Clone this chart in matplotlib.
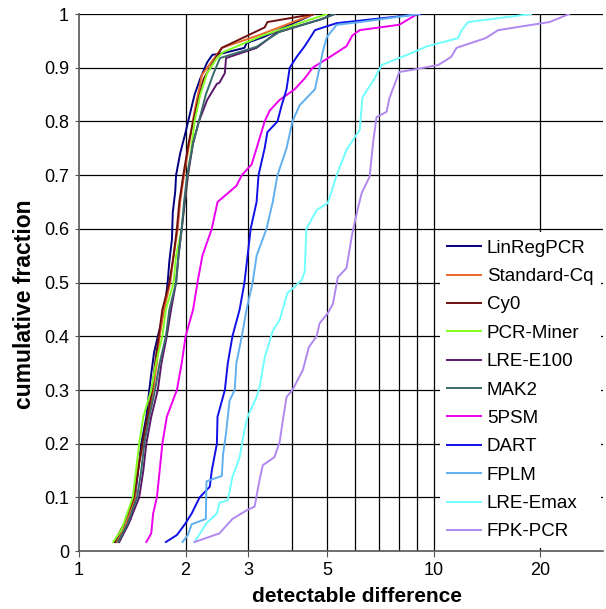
import matplotlib
matplotlib.use("Agg")
import matplotlib.pyplot as plt
from matplotlib.ticker import FixedLocator, NullLocator

plt.rcParams['font.family'] = ['Liberation Sans', 'DejaVu Sans']

# cumulative fraction curves
linreg_x = [1.27, 1.33, 1.40, 1.44, 1.47, 1.50, 1.55, 1.58, 1.60, 1.63, 1.67, 1.70, 1.75, 1.78, 1.80, 1.83,
            1.84, 1.87, 1.88, 1.93, 2.0, 2.05, 2.12, 2.2, 2.3, 2.38, 2.55, 2.93, 2.97, 3.34, 3.76, 4.6]
linreg_y = [0.017, 0.04, 0.06, 0.1, 0.15, 0.2, 0.25, 0.3, 0.33, 0.37, 0.4, 0.42, 0.46, 0.5, 0.54, 0.58,
            0.63, 0.67, 0.7, 0.74, 0.78, 0.81, 0.85, 0.88, 0.91, 0.924, 0.927, 0.937, 0.946, 0.958, 0.974, 1.0]

stdcq_x = [1.28, 1.36, 1.44, 1.46, 1.52, 1.57, 1.62, 1.66, 1.69, 1.74, 1.81, 1.85, 1.9, 1.93, 1.98, 2.05,
           2.12, 2.19, 2.22, 2.53, 3.2, 4.6]
stdcq_y = [0.017, 0.05, 0.1, 0.15, 0.2, 0.25, 0.3, 0.35, 0.4, 0.45, 0.5, 0.55, 0.6, 0.65, 0.7, 0.76,
           0.82, 0.864, 0.886, 0.937, 0.96, 1.0]

cy0_x = [1.26, 1.34, 1.43, 1.47, 1.51, 1.56, 1.61, 1.64, 1.68, 1.72, 1.80, 1.85, 1.89, 1.92, 1.97, 2.04,
         2.1, 2.17, 2.25, 2.53, 3.34, 3.4, 4.6]
cy0_y = [0.017, 0.05, 0.1, 0.15, 0.2, 0.25, 0.3, 0.35, 0.4, 0.45, 0.5, 0.55, 0.6, 0.65, 0.7, 0.76,
         0.8, 0.84, 0.88, 0.937, 0.975, 0.985, 1.0]

miner_x = [1.25, 1.32, 1.42, 1.45, 1.48, 1.52, 1.60, 1.65, 1.72, 1.76, 1.85, 1.88, 1.95, 1.99, 2.05, 2.12,
           2.2, 2.3, 2.45, 2.55, 3.3, 5.0]
miner_y = [0.017, 0.04, 0.1, 0.15, 0.2, 0.25, 0.3, 0.35, 0.4, 0.45, 0.5, 0.55, 0.6, 0.65, 0.72, 0.8,
           0.85, 0.89, 0.918, 0.929, 0.96, 1.0]

e100_x = [1.30, 1.38, 1.48, 1.52, 1.55, 1.60, 1.67, 1.71, 1.77, 1.82, 1.88, 1.91, 1.95, 1.99, 2.03, 2.1,
          2.18, 2.3, 2.45, 2.49, 2.58, 2.6, 3.17, 3.6, 4.8, 5.26]
e100_y = [0.017, 0.05, 0.1, 0.15, 0.2, 0.25, 0.3, 0.35, 0.4, 0.45, 0.5, 0.55, 0.6, 0.65, 0.7, 0.76,
          0.8, 0.84, 0.87, 0.872, 0.89, 0.918, 0.937, 0.965, 0.99, 1.0]

mak2_x = [1.29, 1.37, 1.46, 1.50, 1.53, 1.58, 1.64, 1.69, 1.76, 1.80, 1.88, 1.91, 1.95, 1.98, 2.02, 2.1,
          2.18, 2.28, 2.4, 2.5, 3.17, 3.68, 4.87, 5.26]
mak2_y = [0.017, 0.05, 0.1, 0.15, 0.2, 0.25, 0.3, 0.35, 0.4, 0.45, 0.5, 0.55, 0.6, 0.65, 0.7, 0.76,
          0.8, 0.85, 0.89, 0.918, 0.939, 0.967, 0.991, 1.0]

psm_x = [1.55, 1.60, 1.62, 1.66, 1.69, 1.72, 1.77, 1.89, 1.95, 2.0, 2.1, 2.16, 2.23, 2.37, 2.46, 2.78,
         2.88, 3.07, 3.17, 3.34, 3.45, 3.68, 4.06, 4.33, 4.56, 5.1, 5.68, 5.9, 6.19, 8.0, 9.0]
psm_y = [0.017, 0.033, 0.07, 0.1, 0.15, 0.2, 0.25, 0.3, 0.35, 0.4, 0.45, 0.5, 0.55, 0.6, 0.65, 0.68,
         0.7, 0.72, 0.75, 0.8, 0.82, 0.84, 0.86, 0.88, 0.9, 0.92, 0.94, 0.96, 0.97, 0.98, 1.0]

dart_x = [1.76, 1.89, 1.99, 2.08, 2.19, 2.34, 2.37, 2.45, 2.46, 2.58, 2.63, 2.71, 2.84, 2.93, 2.99, 3.05,
          3.17, 3.21, 3.34, 3.4, 3.63, 3.73, 3.85, 3.93, 4.11, 4.33, 4.53, 4.63, 5.33, 9.2]
dart_y = [0.017, 0.03, 0.05, 0.07, 0.1, 0.12, 0.15, 0.2, 0.25, 0.3, 0.35, 0.4, 0.45, 0.5, 0.55, 0.6,
          0.65, 0.7, 0.75, 0.78, 0.8, 0.83, 0.86, 0.9, 0.92, 0.94, 0.96, 0.97, 0.983, 1.0]

fplm_x = [1.96, 2.03, 2.08, 2.28, 2.29, 2.53, 2.55, 2.6, 2.66, 2.75, 2.78, 2.88, 2.97, 3.09, 3.17, 3.38,
          3.52, 3.63, 3.85, 4.0, 4.19, 4.63, 4.77, 4.87, 5.0, 5.33, 6.2, 9.1]
fplm_y = [0.017, 0.03, 0.05, 0.06, 0.13, 0.14, 0.18, 0.22, 0.28, 0.3, 0.35, 0.4, 0.45, 0.5, 0.55, 0.6,
          0.65, 0.7, 0.75, 0.8, 0.83, 0.86, 0.9, 0.93, 0.957, 0.98, 0.985, 1.0]

emax_x = [2.12, 2.29, 2.45, 2.49, 2.63, 2.71, 2.84, 2.93, 2.99, 3.17, 3.23, 3.34, 3.52, 3.68, 3.87, 4.25,
          4.33, 4.38, 4.68, 5.03, 5.33, 5.68, 6.0, 6.19, 6.3, 6.82, 7.13, 8.0, 8.85, 9.6, 11.7, 12.0,
          12.5, 18.8]
emax_y = [0.017, 0.052, 0.07, 0.09, 0.095, 0.138, 0.175, 0.225, 0.25, 0.287, 0.305, 0.36, 0.41, 0.43, 0.48, 0.505,
          0.52, 0.6, 0.635, 0.648, 0.7, 0.747, 0.771, 0.784, 0.845, 0.88, 0.905, 0.918, 0.93, 0.94, 0.955, 0.97,
          0.985, 1.0]

fpk_x = [2.12, 2.49, 2.71, 2.99, 3.13, 3.23, 3.3, 3.56, 3.68, 3.76, 3.85, 4.0, 4.28, 4.45, 4.68, 4.77,
         5.03, 5.2, 5.37, 5.68, 5.9, 6.1, 6.27, 6.6, 6.75, 6.9, 7.37, 7.5, 8.0, 8.7, 10.3, 11.2,
         11.6, 14.0, 15.2, 21.2, 24.1]
fpk_y = [0.017, 0.033, 0.06, 0.077, 0.083, 0.132, 0.16, 0.175, 0.203, 0.244, 0.287, 0.3, 0.337, 0.38, 0.4, 0.424,
         0.443, 0.46, 0.51, 0.527, 0.592, 0.635, 0.667, 0.697, 0.76, 0.808, 0.818, 0.843, 0.892, 0.896, 0.905, 0.92,
         0.937, 0.955, 0.97, 0.985, 1.0]

names = ['LinRegPCR', 'Standard-Cq', 'Cy0', 'PCR-Miner', 'LRE-E100', 'MAK2',
         '5PSM', 'DART', 'FPLM', 'LRE-Emax', 'FPK-PCR']
xs = [linreg_x, stdcq_x, cy0_x, miner_x, e100_x, mak2_x, psm_x, dart_x, fplm_x, emax_x, fpk_x]
ys = [linreg_y, stdcq_y, cy0_y, miner_y, e100_y, mak2_y, psm_y, dart_y, fplm_y, emax_y, fpk_y]
colors = ['#000080', '#e8682a', '#701010', '#80ff20', '#5a1868', '#3a6a6a',
          '#ee00ee', '#1010e8', '#60b0f0', '#70ffff', '#b088f0']

x_ticks = [1, 2, 3, 5, 10, 20]
x_grid = [2, 3, 4, 5, 6, 7, 8, 9, 10, 20]
y_ticks = [0, 0.1, 0.2, 0.3, 0.4, 0.5, 0.6, 0.7, 0.8, 0.9, 1]
y_labels = ['0', '0.1', '0.2', '0.3', '0.4', '0.5', '0.6', '0.7', '0.8', '0.9', '1']

fig = plt.figure(figsize=(6.06, 6.09), dpi=100)
ax = fig.add_axes([0.130, 0.095, 0.865, 0.882])

for gx in x_grid:
    ax.axvline(gx, color='black', lw=0.9, zorder=1)
for gy in y_ticks[1:]:
    ax.axhline(gy, color='black', lw=0.9, zorder=1)

for x, y, c, n in zip(xs, ys, colors, names):
    ax.plot(x, y, color=c, lw=1.4, label=n, zorder=3)

ax.set_xscale('log')
ax.set_xlim(1, 30)
ax.set_ylim(0, 1)
ax.xaxis.set_major_locator(FixedLocator(x_ticks))
ax.xaxis.set_minor_locator(NullLocator())
ax.set_xticklabels([str(t) for t in x_ticks])
ax.set_yticks(y_ticks)
ax.set_yticklabels(y_labels)
ax.tick_params(labelsize=13, length=4, color='#555555')
ax.tick_params(axis='y', length=3, pad=4)

for s in ['top', 'right']:
    ax.spines[s].set_visible(False)
for s in ['left', 'bottom']:
    ax.spines[s].set_color('#555555')
    ax.spines[s].set_linewidth(1.2)

ax.set_xlabel('detectable difference', fontsize=15, fontweight='bold')
ax.set_ylabel('cumulative fraction', fontsize=16.5, fontweight='bold')
ax.xaxis.set_label_coords(0.53, -0.066)
ax.yaxis.set_label_coords(-0.082, 0.46)

leg = ax.legend(loc='upper left', bbox_to_anchor=(0.689, 0.594), borderaxespad=0, fontsize=13.5,
                frameon=True, fancybox=False, edgecolor='none', facecolor='white', framealpha=1,
                handlelength=1.8, handletextpad=0.3, labelspacing=0.6, borderpad=0.4)
leg.set_zorder(5)

fig.savefig('out.png', dpi=100)
